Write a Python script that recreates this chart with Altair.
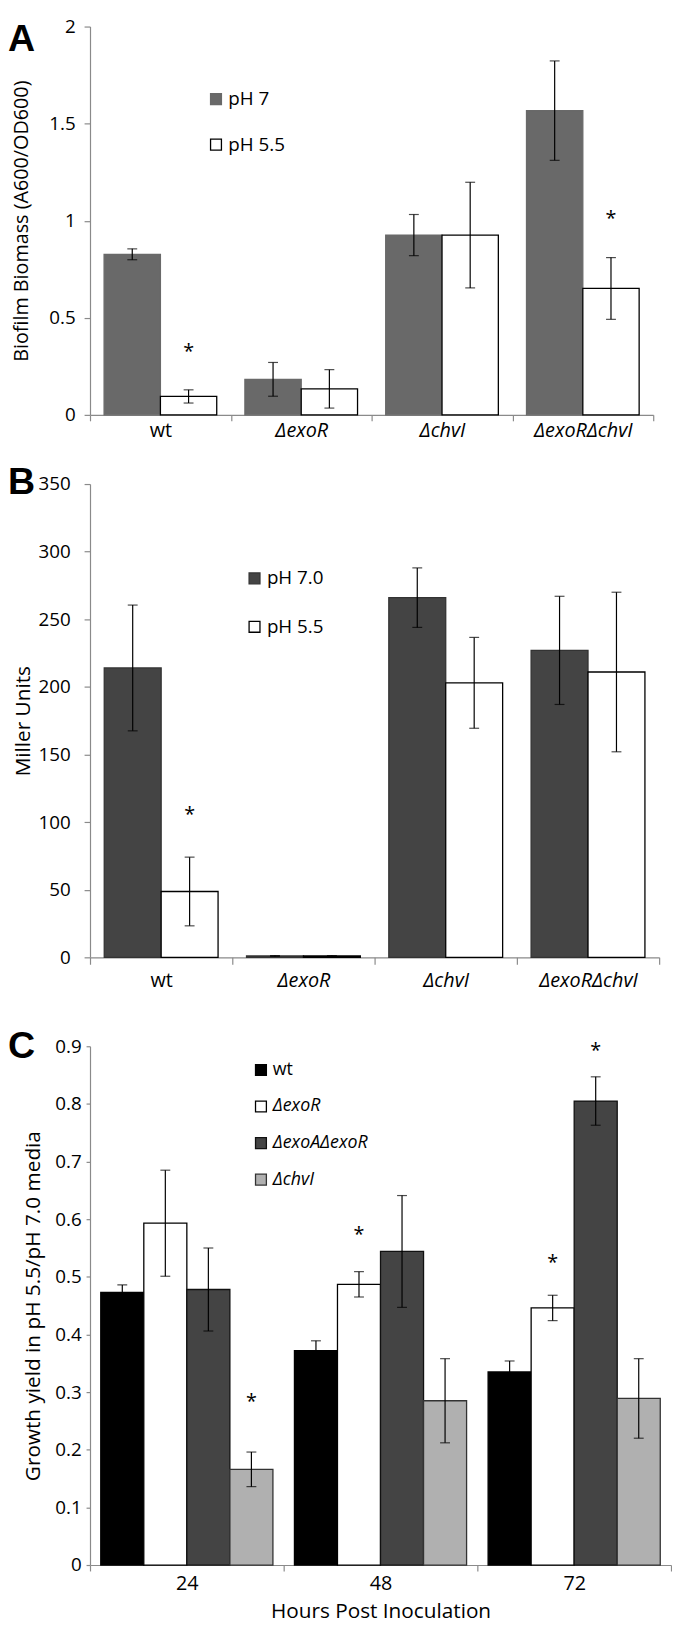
import altair as alt
import pandas as pd

FONT = "Open Sans"
LETTER_FONT = "Liberation Sans"

# ---------------- Panel A : biofilm biomass ----------------
strains = ["wt", "ΔexoR", "ΔchvI", "ΔexoRΔchvI"]
a_conditions = ["pH 7", "pH 5.5"]
a_ph7 = [0.827, 0.183, 0.926, 1.567]
a_ph7_err = [0.028, 0.087, 0.106, 0.256]
a_ph55 = [0.095, 0.134, 0.926, 0.651]
a_ph55_err = [0.034, 0.099, 0.272, 0.159]
a_star_cat = ["wt", "ΔexoRΔchvI"]
a_star_grp = ["pH 5.5", "pH 5.5"]
a_star_y = [0.345, 1.03]
a_yticks = [0, 0.5, 1, 1.5, 2]

# ---------------- Panel B : Miller units ----------------
b_conditions = ["pH 7.0", "pH 5.5"]
b_ph7 = [214, 1, 266, 227]
b_ph7_err = [46.5, 0.3, 22, 40]
b_ph55 = [48.7, 1, 203, 211]
b_ph55_err = [25.4, 0.3, 33.6, 59]
b_star_cat = ["wt"]
b_star_grp = ["pH 5.5"]
b_star_y = [108]
b_yticks = [0, 50, 100, 150, 200, 250, 300, 350]

# ---------------- Panel C : growth yield ----------------
hours = ["24", "48", "72"]
c_strains = ["wt", "ΔexoR", "ΔexoAΔexoR", "ΔchvI"]
c_wt = [0.473, 0.372, 0.335]
c_wt_err = [0.013, 0.017, 0.019]
c_exoR = [0.593, 0.487, 0.446]
c_exoR_err = [0.092, 0.022, 0.022]
c_exoAexoR = [0.478, 0.544, 0.805]
c_exoAexoR_err = [0.072, 0.097, 0.042]
c_chvI = [0.166, 0.285, 0.289]
c_chvI_err = [0.030, 0.073, 0.069]
c_star_cat = ["24", "48", "72", "72"]
c_star_grp = ["ΔchvI", "ΔexoR", "ΔexoR", "ΔexoAΔexoR"]
c_star_y = [0.289, 0.579, 0.531, 0.899]
c_yticks = [0, 0.1, 0.2, 0.3, 0.4, 0.5, 0.6, 0.7, 0.8, 0.9]


def long_df(cats, groups, series_vals, series_errs):
    rows = []
    for g, vals, errs in zip(groups, series_vals, series_errs):
        for c, v, e in zip(cats, vals, errs):
            rows.append({"cat": c, "grp": g, "val": v, "lo": v - e, "hi": v + e})
    return pd.DataFrame(rows)


def star_df(cats, grps, ys):
    return pd.DataFrame({"cat": cats, "grp": grps, "val": ys})


def panel(df, stars, letter, letter_y, cats, groups, fills, strokes, ydom, ytitle,
          width, height, x_axis, y_axis, legend, cap=10):
    xsc = alt.Scale(domain=cats, paddingInner=0, paddingOuter=0)
    osc = alt.Scale(domain=groups, paddingInner=0, paddingOuter=0.25)
    ysc = alt.Scale(domain=ydom, nice=False, zero=True)
    X = alt.X("cat:N", scale=xsc, sort=cats, axis=x_axis)
    XO = alt.XOffset("grp:N", scale=osc, sort=groups)

    def Y(f):
        return alt.Y(f"{f}:Q", scale=ysc, axis=y_axis, title=ytitle)

    base = alt.Chart(df)
    bars = base.mark_bar(strokeWidth=1.3).encode(
        x=X, xOffset=XO, y=Y("val"),
        fill=alt.Fill("grp:N", scale=alt.Scale(domain=groups, range=fills), sort=groups, legend=legend),
        stroke=alt.Stroke("grp:N", scale=alt.Scale(domain=groups, range=strokes), sort=groups, legend=legend),
    )
    rules = base.mark_rule(color="black", strokeWidth=1.2).encode(
        x=X, xOffset=XO, y=Y("lo"), y2="hi:Q")
    cap_lo = base.mark_tick(color="black", thickness=1.2, size=cap).encode(
        x=X, xOffset=XO, y=Y("lo"))
    cap_hi = base.mark_tick(color="black", thickness=1.2, size=cap).encode(
        x=X, xOffset=XO, y=Y("hi"))
    st = alt.Chart(stars).mark_text(text="*", fontSize=20, font=FONT, dy=4, color="black").encode(
        x=X, xOffset=XO, y=Y("val"))
    let = alt.Chart(pd.DataFrame({"t": [letter]})).mark_text(
        font=LETTER_FONT, fontSize=38, fontWeight="bold", align="left", baseline="top", color="black"
    ).encode(text="t:N", x=alt.value(-83), y=alt.value(letter_y))
    return alt.layer(bars, rules, cap_lo, cap_hi, st, let).properties(width=width, height=height)


italic_cond = {"condition": {"test": "datum.value == 'wt'", "value": "normal"}, "value": "italic"}

AXIS_GRAY = "#8a8a8a"

# ---- A ----
A_W, A_H = 570, 393
dfA = long_df(strains, a_conditions, [a_ph7, a_ph55], [a_ph7_err, a_ph55_err])
chartA = panel(
    dfA, star_df(a_star_cat, a_star_grp, a_star_y), "A", -5,
    strains, a_conditions, ["#696969", "#ffffff"], ["#696969", "#000000"],
    [0, 2], "Biofilm Biomass (A600/OD600)", A_W, A_H,
    alt.Axis(title=None, tickBand="extent", tickSize=6, labelPadding=0, labelAngle=0,
             labelFontSize=20, labelFontStyle=italic_cond),
    alt.Axis(values=a_yticks, format=".1~f", tickSize=6, labelPadding=9, labelFontSize=19,
             titleFontSize=20, titleX=-69, titleY=A_H / 2, titleBaseline="middle"),
    alt.Legend(orient="none", legendX=118, legendY=64, title=None, symbolType="square",
               symbolSize=121, symbolStrokeWidth=1.3, labelFont=FONT, labelFontSize=19,
               labelOffset=3, rowPadding=26, labelColor="black"),
)

# ---- B ----
B_W, B_H = 576, 479
dfB = long_df(strains, b_conditions, [b_ph7, b_ph55], [b_ph7_err, b_ph55_err])
chartB = panel(
    dfB, star_df(b_star_cat, b_star_grp, b_star_y), "B", -20,
    strains, b_conditions, ["#444444", "#ffffff"], ["#333333", "#000000"],
    [0, 350], "Miller Units", B_W, B_H,
    alt.Axis(title=None, tickBand="extent", tickSize=7, labelPadding=7, labelAngle=0,
             labelFontSize=20, labelFontStyle=italic_cond),
    alt.Axis(values=b_yticks, format="d", tickSize=6, labelPadding=14, labelFontSize=19,
             titleFontSize=21, titleX=-67, titleY=B_H / 2, titleBaseline="middle"),
    alt.Legend(orient="none", legendX=157, legendY=86, title=None, symbolType="square",
               symbolSize=121, symbolStrokeWidth=1.3, labelFont=FONT, labelFontSize=19,
               labelOffset=3, rowPadding=29, labelColor="black"),
)

# ---- C ----
C_W, C_H = 588, 525
dfC = long_df(hours, c_strains, [c_wt, c_exoR, c_exoAexoR, c_chvI],
              [c_wt_err, c_exoR_err, c_exoAexoR_err, c_chvI_err])
chartC = panel(
    dfC, star_df(c_star_cat, c_star_grp, c_star_y), "C", -18,
    hours, c_strains, ["#000000", "#ffffff", "#444444", "#b0b0b0"],
    ["#000000", "#000000", "#111111", "#333333"],
    [0, 0.9], "Growth yield in pH 5.5/pH 7.0 media", C_W, C_H,
    alt.Axis(title="Hours Post Inoculation", tickBand="extent", tickSize=6, labelPadding=3,
             labelAngle=0, labelFontSize=20, titleFontSize=21, titlePadding=7),
    alt.Axis(values=c_yticks, format=".1~f", tickSize=4, labelPadding=5, labelFontSize=19,
             titleFontSize=21, titleX=-57, titleY=C_H / 2, titleBaseline="middle"),
    alt.Legend(orient="none", legendX=164, legendY=15, title=None, symbolType="square",
               symbolSize=121, symbolStrokeWidth=1.3, labelFont=FONT, labelFontSize=18,
               labelOffset=3, rowPadding=19, labelColor="black",
               labelFontStyle=alt.ExprRef("datum.label == 'wt' ? 'normal' : 'italic'")),
    cap=10,
)

top = (
    alt.vconcat(chartA, chartB, spacing=24)
    .resolve_scale(fill="independent", stroke="independent", xOffset="independent")
    .resolve_legend(fill="independent", stroke="independent")
)

chart = (
    alt.vconcat(top, chartC, spacing=38)
    .resolve_scale(fill="independent", stroke="independent", xOffset="independent")
    .resolve_legend(fill="independent", stroke="independent")
    .properties(padding=0, background="white")
    .configure_view(stroke=None)
    .configure_axis(
        grid=False, domainColor=AXIS_GRAY, tickColor=AXIS_GRAY, domainWidth=1.2, tickWidth=1.2,
        labelFont=FONT, titleFont=FONT, labelColor="black", titleColor="black",
        titleFontWeight="normal",
    )
)

chart.save("out.html", embed_options={"renderer": "svg", "actions": False})
